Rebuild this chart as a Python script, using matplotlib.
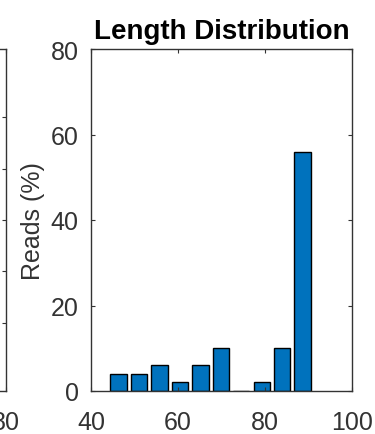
import numpy as np
import matplotlib
matplotlib.use("Agg")
from matplotlib import pyplot as plt

plt.rcParams['font.family'] = ['Liberation Sans', 'DejaVu Sans']

# histogram of read lengths (10 bins between 44 and 91)
centers = [46.35, 51.05, 55.75, 60.45, 65.15, 69.85, 74.55, 79.25, 83.95, 88.65]
reads = [4, 4, 6, 2, 6, 10, 0, 2, 10, 56]

xticks = [40, 60, 80, 100]
yticks = [0, 20, 40, 60, 80]

grey = '#333333'

fig = plt.figure(figsize=(3.75, 4.35), dpi=100)

# neighbouring subplot, mostly cut off on the left
ax0 = fig.add_axes([-255/375, 43/435, 261/375, 342/435])
ax0.set_xlim(20, 80)
ax0.set_ylim(0, 1)
ax0.set_xticks([80])
ax0.set_yticks([0.2, 0.35, 0.5, 0.65, 0.8])
ax0.set_yticklabels([])
ax0.tick_params(direction='in', length=3, width=0.8, colors=grey,
                labelsize=18, top=True, right=True)
ax0.tick_params(axis='x', pad=14)
for s in ax0.spines.values():
    s.set_color(grey)
    s.set_linewidth(1.0)

ax = fig.add_axes([91/375, 43/435, 261/375, 342/435])
step = centers[1] - centers[0]
ax.bar(centers, reads, width=0.8*step, color='#0072BD', edgecolor='black',
       linewidth=1.0)
ax.set_xlim(40, 100)
ax.set_ylim(0, 80)
ax.set_xticks(xticks)
ax.set_yticks(yticks)
ax.tick_params(direction='in', length=3, width=0.8, colors=grey,
               labelsize=18, top=True, right=True)
ax.tick_params(axis='x', pad=14)
ax.tick_params(axis='y', pad=9)
ax.set_ylabel('Reads (%)', fontsize=18, color=grey, labelpad=4)
ax.set_title('Length Distribution', fontsize=20, fontweight='bold', color='black', pad=8)
for s in ax.spines.values():
    s.set_color(grey)
    s.set_linewidth(1.0)

fig.savefig('out.png', dpi=100)
